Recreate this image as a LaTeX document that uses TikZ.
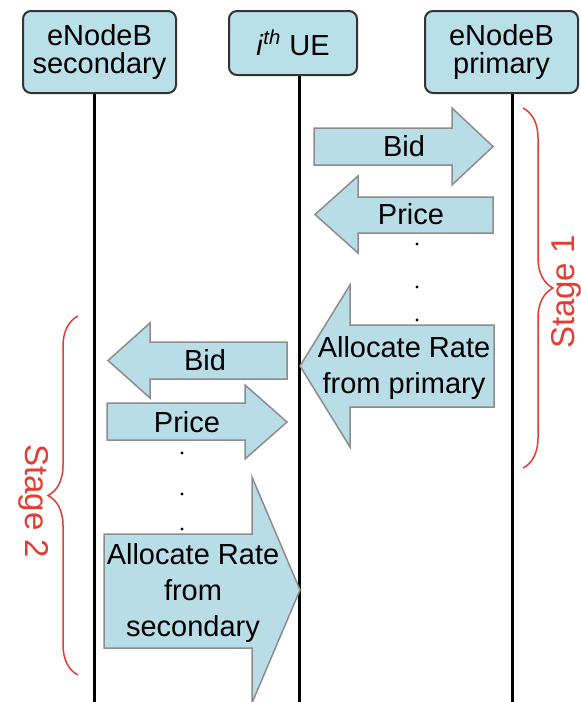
\documentclass[tikz,border=0pt]{standalone}
\usepackage{fontspec}
\setmainfont{Liberation Sans}
\usetikzlibrary{decorations.pathreplacing}
\definecolor{boxfill}{RGB}{185,223,233}
\definecolor{arrowfill}{RGB}{184,221,230}
\definecolor{arrowline}{RGB}{140,140,140}
\definecolor{stagered}{RGB}{228,60,50}
\tikzset{
	entity/.style={draw=black!80, line width=1pt, fill=boxfill, rounded corners=4pt, align=center, inner sep=0pt, font=\fontsize{14.5}{13.5}\selectfont},
	lifeline/.style={line width=1.5pt},
	msg/.style={fill=arrowfill, draw=arrowline, line width=0.75pt},
	msgtext/.style={align=center, inner sep=0pt, font=\fontsize{14.5}{18}\selectfont},
	stagebrace/.style={draw=stagered, line width=0.75pt, decorate, decoration={brace, amplitude=15pt}},
	stagelabel/.style={text=stagered, font=\fontsize{16.5}{18}\selectfont}
}
\begin{document}
\begin{tikzpicture}[x=0.5pt, y=-0.5pt]
		\useasboundingbox (0,0) rectangle (581,702);
		\node[entity, minimum width=76.5pt, minimum height=41pt] (sec) at (99.5,52) {eNodeB\\secondary};
		\node[entity, minimum width=64pt, minimum height=32pt] (ue) at (293,43) {\textit{i}\textsuperscript{\textit{th}} UE};
		\node[entity, minimum width=76.5pt, minimum height=41pt] (pri) at (501.5,52) {eNodeB\\primary};
		
		\coordinate (secEnd) at (94,702);
		\coordinate (ueEnd) at (299,702);
		\coordinate (priEnd) at (512,702);
		\draw[lifeline] (sec.south -| secEnd) -- (secEnd);
		\draw[lifeline] (ue.south -| ueEnd) -- (ueEnd);
		\draw[lifeline] (pri.south -| priEnd) -- (priEnd);
		
		% stage 1
		\draw[msg] (314,128) -- (452,128) -- (452,108) -- (493,146.5) -- (452,185) -- (452,165) -- (314,165) -- cycle;
		\node[msgtext] (bidPri) at (404,146.5) {Bid};
		\draw[msg] (493,197) -- (358,197) -- (358,176) -- (315,214.5) -- (358,253) -- (358,233) -- (493,233) -- cycle;
		\node[msgtext] (pricePri) at (411,214) {Price};
		\foreach \y in {244,287,320}
			\fill (417,\y) circle (1.6);
		\draw[msg] (494,325) -- (350,325) -- (350,285) -- (300,366) -- (350,447) -- (350,407) -- (494,407) -- cycle;
		\node[msgtext] (allocPri) at (404,368) {Allocate Rate\\from primary};
		
		% stage 2
		\draw[msg] (287,342) -- (150,342) -- (150,323) -- (108,360.5) -- (150,398) -- (150,379) -- (287,379) -- cycle;
		\node[msgtext] (bidSec) at (205,360.5) {Bid};
		\draw[msg] (107,403) -- (245,403) -- (245,385) -- (287,422) -- (245,459) -- (245,440) -- (107,440) -- cycle;
		\node[msgtext] (priceSec) at (187,422) {Price};
		\foreach \y in {453,494,529}
			\fill (182,\y) circle (1.6);
		\draw[msg] (104,534) -- (252,534) -- (252,477) -- (300,590) -- (252,703) -- (252,648) -- (104,648) -- cycle;
		\node[msgtext] (allocSec) at (193,593) {Allocate Rate\\from\\secondary};
		
		\draw[stagebrace] (523,108) -- (523,468);
		\node[stagelabel, rotate=90] (stageOne) at (566,292) {Stage 1};
		\draw[stagebrace] (78,675) -- (78,316);
		\node[stagelabel, rotate=-90] (stageTwo) at (34,501) {Stage 2};
	\end{tikzpicture}
\end{document}
